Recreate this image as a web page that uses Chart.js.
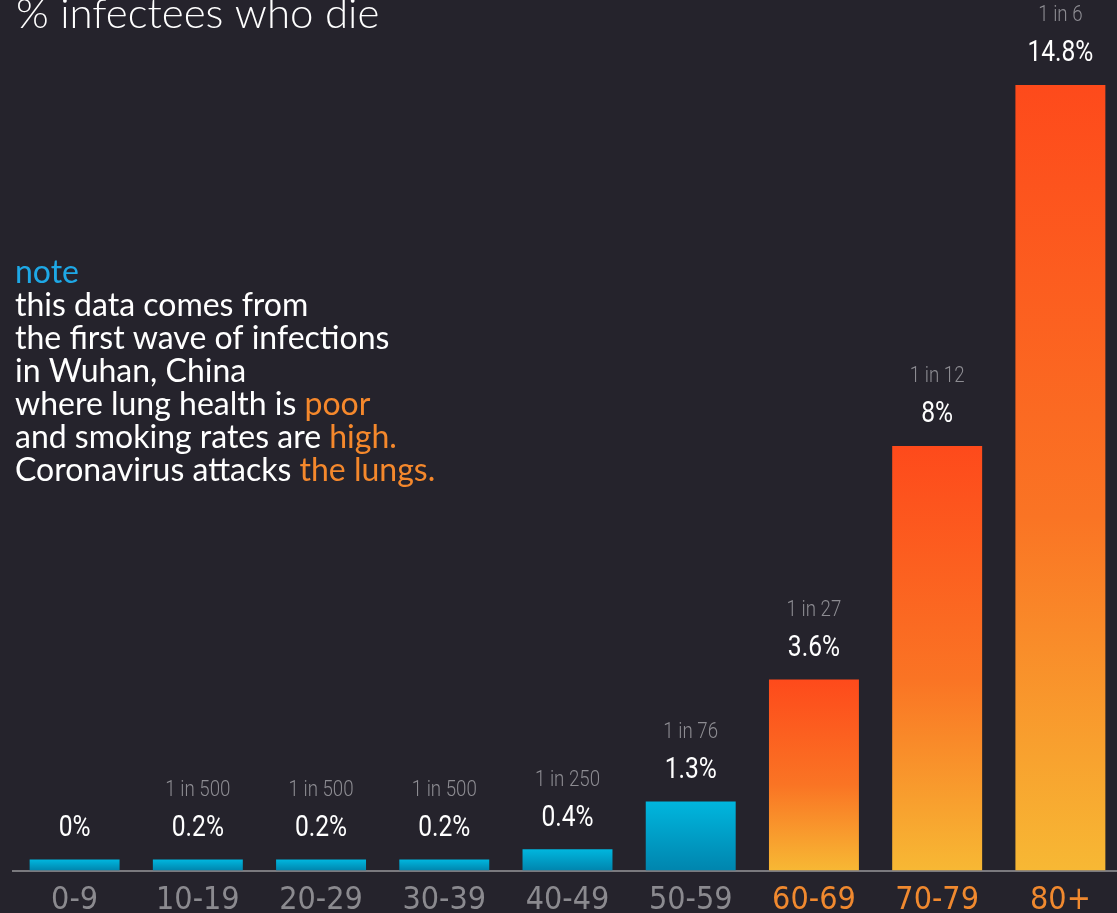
<!DOCTYPE html>
<html>
<head>
  <title>% infectees who die</title>
  <script src="https://cdn.jsdelivr.net/npm/chart.js"></script>
  <style>
    html, body { margin: 0; padding: 0; background: #25232c; overflow: hidden; }
    #wrap { position: absolute; left: 0; top: 0; width: 1122px; height: 931px; }
  </style>
</head>
<body>
  <div id="wrap"><canvas id="chart"></canvas></div>
  <script>
    const categories = ['0-9', '10-19', '20-29', '30-39', '40-49', '50-59', '60-69', '70-79', '80+'];
    const deathRates = [0, 0.2, 0.2, 0.2, 0.4, 1.3, 3.6, 8, 14.8];
    const rateLabels = ['0%', '0.2%', '0.2%', '0.2%', '0.4%', '1.3%', '3.6%', '8%', '14.8%'];
    const oddsLabels = ['', '1 in 500', '1 in 500', '1 in 500', '1 in 250', '1 in 76', '1 in 27', '1 in 12', '1 in 6'];
    const highRisk = [false, false, false, false, false, false, true, true, true];

    const noteLines = [
      [['note', '#1ea8e6']],
      [['this data comes from', '#ffffff']],
      [['the first wave of infections', '#ffffff']],
      [['in Wuhan, China', '#ffffff']],
      [['where lung health is ', '#ffffff'], ['poor', '#f5882c']],
      [['and smoking rates are ', '#ffffff'], ['high.', '#f5882c']],
      [['Coronavirus attacks ', '#ffffff'], ['the lungs.', '#f5882c']]
    ];

    function barColor(context) {
      const chart = context.chart;
      if (!chart.chartArea) return '#00a8d4';
      const i = context.dataIndex;
      const y = chart.scales.y;
      const bottom = y.getPixelForValue(0);
      const top = Math.min(y.getPixelForValue(deathRates[i]), bottom - 11);
      const g = chart.ctx.createLinearGradient(0, top, 0, bottom);
      if (highRisk[i]) {
        g.addColorStop(0, '#fe4a1b');
        g.addColorStop(0.55, '#fa7424');
        g.addColorStop(1, '#f7b834');
      } else {
        g.addColorStop(0, '#00b6de');
        g.addColorStop(1, '#0085ae');
      }
      return g;
    }

    const labelPlugin = {
      id: 'labels',
      afterDatasetsDraw(chart) {
        const ctx = chart.ctx;
        const meta = chart.getDatasetMeta(0);
        ctx.save();
        ctx.textAlign = 'center';
        ctx.textBaseline = 'middle';
        meta.data.forEach((bar, i) => {
          ctx.save();
          ctx.translate(bar.x, bar.y - 31);
          ctx.scale(0.82, 1);
          ctx.fillStyle = '#ffffff';
          ctx.font = '400 30px Roboto';
          ctx.fillText(rateLabels[i], 0, 0);
          ctx.restore();
          if (oddsLabels[i]) {
            ctx.save();
            ctx.translate(bar.x, bar.y - 69);
            ctx.scale(0.85, 1);
            ctx.fillStyle = '#8d8c92';
            ctx.font = '300 22px Roboto';
            ctx.fillText(oddsLabels[i], 0, 0);
            ctx.restore();
          }
        });
        ctx.restore();

        // title and note
        ctx.save();
        ctx.textAlign = 'left';
        ctx.textBaseline = 'alphabetic';
        ctx.fillStyle = '#ffffff';
        ctx.font = '300 42px Lato';
        ctx.fillText('% infectees who die', 16, 28);
        ctx.font = '400 32px Lato';
        noteLines.forEach((line, j) => {
          let x = 15;
          const yy = 283 + j * 33;
          line.forEach(([text, color]) => {
            ctx.fillStyle = color;
            ctx.fillText(text, x, yy);
            x += ctx.measureText(text).width;
          });
        });
        ctx.restore();
      }
    };

    new Chart(document.getElementById('chart'), {
      type: 'bar',
      data: {
        labels: categories,
        datasets: [{
          data: deathRates,
          backgroundColor: barColor,
          borderWidth: 0,
          minBarLength: 11,
          categoryPercentage: 1,
          barPercentage: 0.73
        }]
      },
      options: {
        responsive: true,
        maintainAspectRatio: false,
        animation: false,
        layout: { padding: { left: 13, right: 0, top: 0, bottom: 0 } },
        plugins: { legend: { display: false }, tooltip: { enabled: false } },
        scales: {
          x: {
            grid: { display: false, drawTicks: false },
            border: { display: true, color: '#7a797e', width: 2 },
            ticks: {
              padding: 11,
              font: { family: "'DejaVu Sans Condensed', sans-serif", size: 32, weight: '200' },
              color: (c) => highRisk[c.index] ? '#f0892f' : '#8b8a8f'
            }
          },
          y: {
            display: false,
            min: 0,
            max: 16.4
          }
        }
      },
      plugins: [labelPlugin]
    });
  </script>
</body>
</html>
